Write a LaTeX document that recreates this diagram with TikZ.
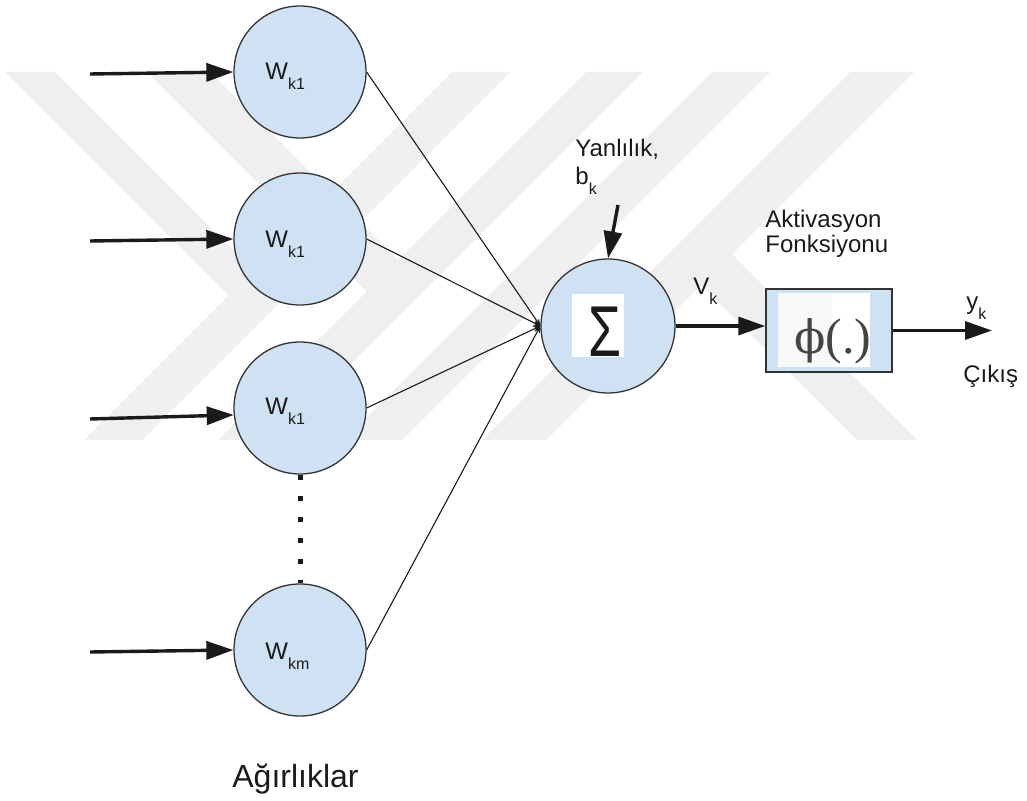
\documentclass[tikz,border=0pt]{standalone}
\usepackage{fontspec}
\setmainfont{Liberation Sans}
\newfontfamily\phifont{Liberation Serif}
\newfontfamily\phisym{DejaVu Serif}
\usetikzlibrary{arrows.meta}

\definecolor{nodeblue}{HTML}{CFE2F3}
\definecolor{linegrey}{HTML}{333333}
\definecolor{ink}{HTML}{1A1A1A}
\definecolor{wmgrey}{HTML}{EFEFEF}
\definecolor{paleface}{HTML}{F8F8F8}
\definecolor{phigrey}{HTML}{444444}

% lowered subscript used in the labels
\newcommand\lowsub[1]{\raisebox{-5pt}{\fontsize{8}{8}\selectfont #1}}

\begin{document}
\begin{tikzpicture}[x=0.5pt,y=-0.5pt,
  weight/.style={circle, draw=linegrey, line width=0.65pt, fill=nodeblue,
    minimum size=66pt, inner sep=0pt},
  sumnode/.style={circle, draw=linegrey, line width=0.65pt, fill=nodeblue,
    minimum size=67pt, inner sep=0pt},
  actbox/.style={rectangle, draw=linegrey, line width=0.75pt, fill=nodeblue,
    minimum width=63pt, minimum height=41.5pt, inner sep=0pt},
  thickarrow/.style={-{Triangle[length=13.5pt,width=9pt]}, line width=1.7pt, draw=ink},
  feed/.style={-{Stealth[length=3.5pt,width=3pt]}, line width=0.55pt, draw=ink},
  dotline/.style={draw=ink, line width=2.5pt, dash pattern=on 2.5pt off 8pt},
  lab/.style={font=\fontsize{12}{14}\selectfont, text=ink, inner sep=0pt, anchor=base west}
]
\useasboundingbox (0,0) rectangle (1027,801);

% faint background emblem made of diagonal bands
\fill[wmgrey] (84,440) -- (142,440) -- (510,72) -- (452,72) -- cycle;
\fill[wmgrey] (218,440) -- (275,440) -- (643,72) -- (586,72) -- cycle;
\fill[wmgrey] (344,440) -- (402,440) -- (770,72) -- (712,72) -- cycle;
\fill[wmgrey] (482,440) -- (546,440) -- (914,72) -- (850,72) -- cycle;
\fill[wmgrey] (5,72) -- (55,72) -- (282.5,299.5) -- (228.5,295.5) -- cycle;
\fill[wmgrey] (147,72) -- (210,72) -- (426.5,288.5) -- (366.5,291.5) -- cycle;
\fill[wmgrey] (668,252) -- (732,254) -- (917,440) -- (857,440) -- cycle;

% weight nodes
\node[weight] (c1) at (300,72) {};
\node[weight] (c2) at (300,239) {};
\node[weight] (c3) at (300,408) {};
\node[weight] (c4) at (300,650) {};

\node[lab] (l1) at (265,80) {W\lowsub{k1}};
\node[lab] (l2) at (265,248) {W\lowsub{k1}};
\node[lab] (l3) at (265,415) {W\lowsub{k1}};
\node[lab] (l4) at (265,659) {W\lowsub{km}};

\draw[dotline] (c3.south) -- (c4.north);

% inputs
\coordinate (in1) at (90,74);
\coordinate (in2) at (90,241);
\coordinate (in3) at (90,419);
\coordinate (in4) at (90,652);
\draw[thickarrow] (in1) -- (c1.west);
\draw[thickarrow] (in2) -- (c2.west);
\draw[thickarrow] (in3) -- (c3.186);
\draw[thickarrow] (in4) -- (c4.west);

\node[lab, font=\fontsize{16}{18}\selectfont] (agr) at (232,787) {Ağırlıklar};

% summing junction
\node[sumnode] (s) at (608,326) {};
\node[fill=white, minimum width=26pt, minimum height=31.5pt, inner sep=0pt] (sigbg) at (598,325.5) {};
\node[inner sep=0pt, anchor=base west, font=\fontsize{36}{36}\selectfont, text=ink] (sig) at (588.5,356.5) {\scalebox{0.74}[1]{Σ}};

\draw[feed] (c1.east) -- (s.west);
\draw[feed] (c2.east) -- (s.west);
\draw[feed] (c3.east) -- (s.west);
\draw[feed] (c4.east) -- (s.west);

% bias
\coordinate (b0) at (618,205);
\draw[thickarrow] (b0) -- (s.north);
\node[lab] (bias1) at (575,157) {Yanlılık,};
\node[lab] (bias2) at (575,185) {b\lowsub{k}};

% activation block
\node[actbox] (act) at (829,330.5) {};
\fill[paleface] (778,293) rectangle (832,367);
\fill[white] (832,293) rectangle (870,367);
\node[inner sep=0pt, anchor=base west, font=\phifont\fontsize{25}{25}\selectfont, text=phigrey] (phi) at (794,354) {{\phisym\fontsize{23}{23}\selectfont ϕ}(.)};

\node[lab] (vk) at (693,295) {V\lowsub{k}};
\draw[thickarrow] (s.east) -- (s.east -| act.west);

\node[lab] (akt1) at (765,228) {Aktivasyon};
\node[lab] (akt2) at (765,253) {Fonksiyonu};

% output
\coordinate (out) at (992,330.5);
\draw[thickarrow] (act.east) -- (out);
\node[lab] (yk) at (966,310) {y\lowsub{k}};
\node[lab] (cikis) at (963,383) {Çıkış};
\end{tikzpicture}
\end{document}
